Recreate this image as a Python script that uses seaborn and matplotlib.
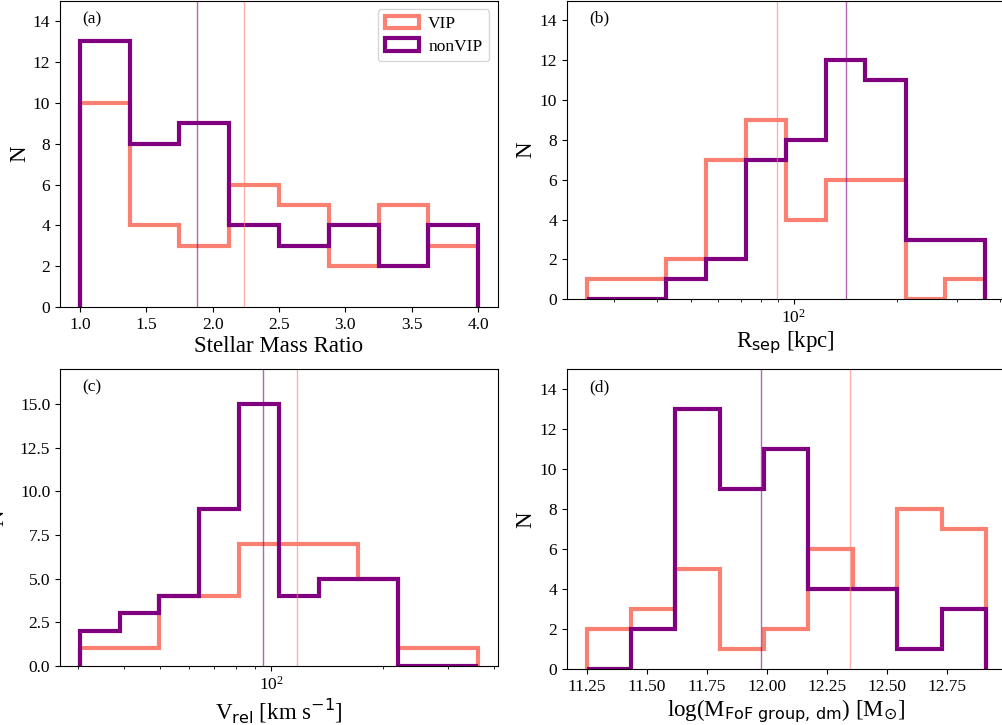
import numpy as np
import matplotlib
matplotlib.use("Agg")
import matplotlib.pyplot as plt
from matplotlib.patches import Patch
from matplotlib.ticker import MultipleLocator
import seaborn as sns

# ---- data: bin edges, counts per bin and medians for each sample ----
# (a) stellar mass ratio
mass_edges = [1.0, 1.375, 1.75, 2.125, 2.5, 2.875, 3.25, 3.625, 4.0]
mass_vip = [10, 4, 3, 6, 5, 2, 5, 3]
mass_nonvip = [13, 8, 9, 4, 3, 4, 2, 4]
mass_median_vip = 2.233
mass_median_nonvip = 1.884

# (b) projected separation [kpc], edges given as log10
rsep_log_edges = [1.396, 1.512, 1.628, 1.745, 1.861, 1.977, 2.093, 2.209, 2.326, 2.442, 2.558]
rsep_vip = [1, 1, 2, 7, 9, 4, 6, 6, 0, 1]
rsep_nonvip = [0, 0, 1, 2, 7, 8, 12, 11, 3, 3]
rsep_median_vip = 89.5
rsep_median_nonvip = 142.4

# (c) relative velocity [km/s], edges given as log10
vrel_log_edges = [1.482, 1.590, 1.697, 1.805, 1.912, 2.020, 2.128, 2.235, 2.343, 2.450, 2.558]
vrel_vip = [1, 1, 4, 4, 7, 7, 7, 5, 1, 1]
vrel_nonvip = [2, 3, 4, 9, 15, 4, 5, 5, 0, 0]
vrel_median_vip = 117.3
vrel_median_nonvip = 94.8

# (d) log FoF group dark-matter mass
mfof_edges = [11.250, 11.435, 11.620, 11.805, 11.990, 12.174, 12.359, 12.544, 12.729, 12.914]
mfof_vip = [2, 3, 5, 1, 2, 6, 4, 8, 7]
mfof_nonvip = [0, 2, 13, 9, 11, 4, 4, 1, 3]
mfof_median_vip = 12.347
mfof_median_nonvip = 11.975

labels = ["VIP", "nonVIP"]
colors = {"VIP": "#FA8072", "nonVIP": "#800080"}

sns.set_theme(style="ticks")
plt.rcParams.update({
    "font.family": ["Liberation Serif", "DejaVu Serif"],
    "mathtext.fontset": "dejavusans",
    "axes.edgecolor": "black",
    "axes.linewidth": 0.8,
    "xtick.color": "black",
    "ytick.color": "black",
    "xtick.major.size": 3.5,
    "ytick.major.size": 3.5,
    "xtick.minor.size": 2,
    "xtick.major.width": 0.8,
    "ytick.major.width": 0.8,
    "xtick.minor.width": 0.6,
    "xtick.labelsize": 12.5,
    "ytick.labelsize": 12.5,
    "axes.labelsize": 16.5,
    "axes.labelpad": 2.0,
    "axes.labelcolor": "black",
    "text.color": "black",
    "axes.facecolor": "white",
    "figure.facecolor": "white",
})

W, H = 1003, 725
fig = plt.figure(figsize=(W / 100, H / 100), dpi=100)


def add_axes_px(x0, x1, ytop, ybot):
    return fig.add_axes([x0 / W, 1 - ybot / H, (x1 - x0) / W, (ybot - ytop) / H])


def draw_steps(ax, edges, counts, color):
    edges = np.asarray(edges, dtype=float)
    centers = np.sqrt(edges[:-1] * edges[1:])
    # one observation per count, placed at its bin centre
    obs = np.repeat(centers, np.asarray(counts, dtype=int))
    sns.histplot(x=obs, bins=edges, element="step", fill=False,
                 color=color, linewidth=3, ax=ax,
                 solid_joinstyle="miter", solid_capstyle="butt")
    line = ax.lines[-1]
    x, y = line.get_data()
    # close the outline down to zero at both ends, like a step histogram
    line.set_data(np.r_[x[0], x, x[-1]], np.r_[0.0, y, 0.0])


def panel(ax, edges, vip, nonvip, med_vip, med_nonvip, log, ymax, xlabel, tag, ypad=2.0):
    edges = np.asarray(edges, dtype=float)
    raw_edges = 10 ** edges if log else edges
    draw_steps(ax, raw_edges, vip, colors["VIP"])
    draw_steps(ax, raw_edges, nonvip, colors["nonVIP"])
    ax.axvline(med_nonvip, color=colors["nonVIP"], lw=1.0, alpha=0.6)
    ax.axvline(med_vip, color=colors["VIP"], lw=1.0, alpha=0.6)
    lo, hi = edges[0], edges[-1]
    pad = 0.05 * (hi - lo)
    if log:
        ax.set_xscale("log")
        ax.set_xlim(10 ** (lo - pad), 10 ** (hi + pad))
    else:
        ax.set_xlim(lo - pad, hi + pad)
    ax.set_ylim(0, ymax)
    ax.set_xlabel(xlabel)
    ax.set_ylabel("N", labelpad=ypad)
    ax.text(0.051, 0.94, tag, transform=ax.transAxes, ha="left", va="center", fontsize=12.5)
    ax.tick_params(which="both", direction="out")


ax_a = add_axes_px(60, 498, 0.5, 307.3)
ax_b = add_axes_px(566.7, 1005, 0.5, 299.3)
ax_c = add_axes_px(60, 497.7, 369.3, 665.7)
ax_d = add_axes_px(566.7, 1006, 369.3, 669.3)

panel(ax_a, mass_edges, mass_vip, mass_nonvip, mass_median_vip, mass_median_nonvip,
      False, 15, "Stellar Mass Ratio", "(a)")
panel(ax_b, rsep_log_edges, rsep_vip, rsep_nonvip, rsep_median_vip, rsep_median_nonvip,
      True, 15, r"R$_{\rm sep}$ [kpc]", "(b)")
panel(ax_c, vrel_log_edges, vrel_vip, vrel_nonvip, vrel_median_vip, vrel_median_nonvip,
      True, 17, r"V$_{\rm rel}$ [km s$^{-1}$]", "(c)", ypad=8.0)
panel(ax_d, mfof_edges, mfof_vip, mfof_nonvip, mfof_median_vip, mfof_median_nonvip,
      False, 15, r"log(M$_{\rm FoF\ group,\,dm}$) [M$_{\odot}$]", "(d)")
ax_c.yaxis.set_major_locator(MultipleLocator(2.5))

handles = [Patch(facecolor="none", edgecolor=colors[k], linewidth=3) for k in labels]
ax_a.legend(handles, labels, loc="upper right", fontsize=12.5, frameon=True,
            fancybox=True, framealpha=0.8, edgecolor="0.8", labelspacing=0.35,
            handletextpad=0.5)

fig.savefig("out.png", dpi=100)
